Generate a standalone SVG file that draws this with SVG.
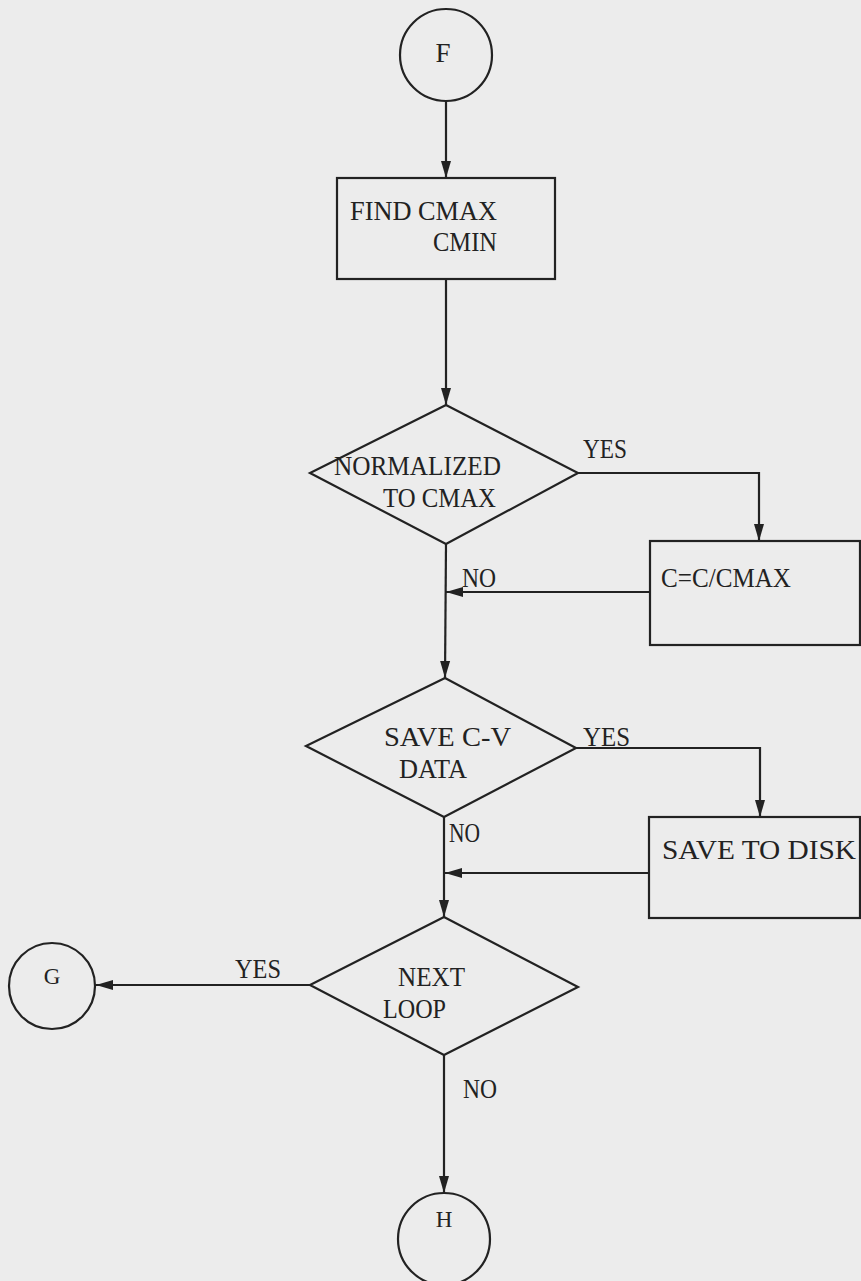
<svg xmlns="http://www.w3.org/2000/svg" width="861" height="1281" viewBox="0 0 861 1281">
<style>
.s{fill:none;stroke:#222;stroke-width:2.2}
.c{fill:none;stroke:#222;stroke-width:2.2}
.t{font-family:"Liberation Serif",serif;font-size:27px;fill:#222}
.m{text-anchor:middle}
</style>
<defs>
<marker id="ah" markerUnits="userSpaceOnUse" markerWidth="18" markerHeight="12" refX="17" refY="6" orient="auto">
<path d="M0,1 L17,6 L0,11 Z" fill="#222"/>
</marker>
</defs>
<rect width="861" height="1281" fill="#ececec"/>
<g id="connectors">
<line class="c" x1="446" y1="101" x2="446" y2="178" marker-end="url(#ah)"/>
<line class="c" x1="446" y1="279" x2="446" y2="405" marker-end="url(#ah)"/>
<polyline class="c" points="578,473 759,473 759,541" marker-end="url(#ah)"/>
<line class="c" x1="650" y1="592" x2="446" y2="592" marker-end="url(#ah)"/>
<line class="c" x1="446" y1="544" x2="445" y2="678" marker-end="url(#ah)"/>
<polyline class="c" points="576,748 760,748 760,817" marker-end="url(#ah)"/>
<line class="c" x1="649" y1="873" x2="445" y2="873" marker-end="url(#ah)"/>
<line class="c" x1="444" y1="817" x2="444" y2="917" marker-end="url(#ah)"/>
<line class="c" x1="310" y1="985" x2="96" y2="985" marker-end="url(#ah)"/>
<line class="c" x1="444" y1="1055" x2="444" y2="1193" marker-end="url(#ah)"/>
<text class="t" x="583" y="458" textLength="44" lengthAdjust="spacingAndGlyphs">YES</text>
<text class="t" x="462" y="587" textLength="34" lengthAdjust="spacingAndGlyphs">NO</text>
<text class="t" x="583" y="746" textLength="47" lengthAdjust="spacingAndGlyphs">YES</text>
<text class="t" x="449" y="842" textLength="31" lengthAdjust="spacingAndGlyphs">NO</text>
<text class="t" x="235" y="978" textLength="46" lengthAdjust="spacingAndGlyphs">YES</text>
<text class="t" x="463" y="1098" textLength="34" lengthAdjust="spacingAndGlyphs">NO</text>
</g>
<g id="F">
<circle class="s" cx="446" cy="55" r="46"/>
<text class="t m" x="443" y="62">F</text>
</g>
<g id="find">
<rect class="s" x="337" y="178" width="218" height="101"/>
<text class="t" x="350" y="220" textLength="147" lengthAdjust="spacingAndGlyphs">FIND CMAX</text>
<text class="t" x="433" y="251" textLength="64" lengthAdjust="spacingAndGlyphs">CMIN</text>
</g>
<g id="normalized">
<polygon class="s" points="446,405 578,473 446,544 310,473"/>
<text class="t" x="334" y="475" textLength="167" lengthAdjust="spacingAndGlyphs">NORMALIZED</text>
<text class="t" x="383" y="507" textLength="113" lengthAdjust="spacingAndGlyphs">TO CMAX</text>
</g>
<g id="divide">
<rect class="s" x="650" y="541" width="210" height="104"/>
<text class="t" x="661" y="587" textLength="130" lengthAdjust="spacingAndGlyphs">C=C/CMAX</text>
</g>
<g id="savecv">
<polygon class="s" points="445,678 576,748 444,817 306,746"/>
<text class="t" x="384" y="746" textLength="127" lengthAdjust="spacingAndGlyphs">SAVE C-V</text>
<text class="t" x="399" y="778" textLength="68" lengthAdjust="spacingAndGlyphs">DATA</text>
</g>
<g id="savedisk">
<rect class="s" x="649" y="817" width="211" height="101"/>
<text class="t" x="662" y="859" textLength="194" lengthAdjust="spacingAndGlyphs">SAVE TO DISK</text>
</g>
<g id="nextloop">
<polygon class="s" points="444,917 578,987 444,1055 310,985"/>
<text class="t" x="398" y="986" textLength="67" lengthAdjust="spacingAndGlyphs">NEXT</text>
<text class="t" x="383" y="1018" textLength="63" lengthAdjust="spacingAndGlyphs">LOOP</text>
</g>
<g id="G">
<circle class="s" cx="52" cy="986" r="43"/>
<text class="t m" x="52" y="984" style="font-size:23px">G</text>
</g>
<g id="H">
<circle class="s" cx="444" cy="1239" r="46"/>
<text class="t m" x="444" y="1227" style="font-size:23px">H</text>
</g>
</svg>
